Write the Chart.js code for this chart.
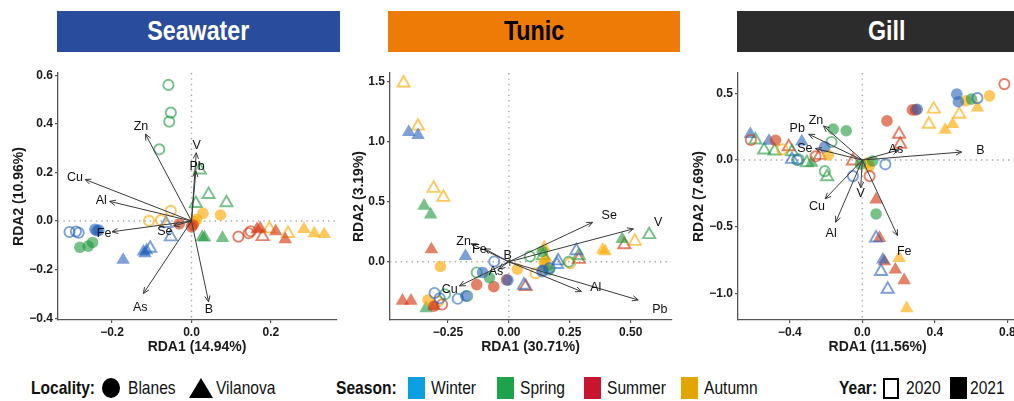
<!DOCTYPE html>
<html lang="en">
<head>
<meta charset="UTF-8" />
<title>RDA biplots</title>
<script src="https://cdn.jsdelivr.net/npm/chart.js"></script>
<style>
  html, body { margin: 0; padding: 0; background: #fff; }
  body { width: 1014px; height: 401px; overflow: hidden; position: relative; font-family: 'Liberation Sans', Arial, sans-serif; }
  canvas { position: absolute; top: 60px; }
  .title { position: absolute; top: 11px; height: 41px; line-height: 41px; text-align: center; font-weight: bold; font-size: 27px; }
  .title span { display: inline-block; transform: scaleX(0.86); }
  .leg { position: absolute; top: 378px; height: 20px; line-height: 20px; font-size: 19px; color: #111; white-space: nowrap;
         transform: scaleX(0.82); transform-origin: 0 50%; }
  .leg b { font-weight: bold; }
  .sw { position: absolute; }
</style>
</head>
<body>

<div class="title" style="left:57px;width:283px;background:#2a4c9c;color:#fff"><span>Seawater</span></div>
<div class="title" style="left:388px;width:292px;background:#ee7b06;color:#000"><span>Tunic</span></div>
<div class="title" style="left:737px;width:300px;background:#2c2c2c;color:#fff"><span>Gill</span></div>

<canvas id="seawater" width="345" height="300" style="left:0px"></canvas>
<canvas id="tunic" width="340" height="300" style="left:340px"></canvas>
<canvas id="gill" width="346" height="300" style="left:680px"></canvas>

<!-- legend -->
<div class="leg" style="left:31px"><b>Locality:</b></div>
<div class="sw" style="left:102px;top:378px;width:18px;height:20px;border-radius:50%;background:#000"></div>
<div class="leg" style="left:128px">Blanes</div>
<div class="sw" style="left:189px;top:378px;width:0;height:0;border-left:12px solid transparent;border-right:12px solid transparent;border-bottom:20px solid #000"></div>
<div class="leg" style="left:216px">Vilanova</div>

<div class="leg" style="left:336px"><b>Season:</b></div>
<div class="sw" style="left:408px;top:377px;width:17px;height:22px;background:#0ca0e2"></div>
<div class="leg" style="left:431px">Winter</div>
<div class="sw" style="left:497px;top:377px;width:17px;height:22px;background:#1fa34a"></div>
<div class="leg" style="left:520px">Spring</div>
<div class="sw" style="left:584px;top:377px;width:17px;height:22px;background:#c8152f"></div>
<div class="leg" style="left:607px">Summer</div>
<div class="sw" style="left:681px;top:377px;width:17px;height:22px;background:#e3a600"></div>
<div class="leg" style="left:704px">Autumn</div>

<div class="leg" style="left:839px"><b>Year:</b></div>
<div class="sw" style="left:883px;top:378px;width:12px;height:17px;border:2.5px solid #000"></div>
<div class="leg" style="left:906px">2020</div>
<div class="sw" style="left:950px;top:377px;width:17px;height:22px;background:#000"></div>
<div class="leg" style="left:970px">2021</div>

<script>
// ---- data ----
const localities = ['Blanes', 'Vilanova'];
const seasons = ['Winter', 'Spring', 'Summer', 'Autumn'];
const years = [2020, 2021];

// [RDA1, RDA2, locality, season, year]
const seawaterPoints = [
  [-0.058, 0.56, 'Blanes', 'Spring', 2020], [-0.052, 0.446, 'Blanes', 'Spring', 2020],
  [-0.056, 0.409, 'Blanes', 'Spring', 2020], [-0.081, 0.295, 'Blanes', 'Spring', 2020],
  [-0.281, -0.108, 'Blanes', 'Spring', 2021], [-0.26, -0.103, 'Blanes', 'Spring', 2021],
  [-0.249, -0.088, 'Blanes', 'Spring', 2021],
  [-0.307, -0.045, 'Blanes', 'Winter', 2020], [-0.291, -0.043, 'Blanes', 'Winter', 2020],
  [-0.284, -0.048, 'Blanes', 'Winter', 2020],
  [-0.243, -0.034, 'Blanes', 'Winter', 2021], [-0.233, -0.037, 'Blanes', 'Winter', 2021],
  [-0.238, -0.04, 'Blanes', 'Winter', 2021],
  [-0.107, 0.001, 'Blanes', 'Autumn', 2020], [-0.077, 0.004, 'Blanes', 'Autumn', 2020],
  [-0.052, 0.042, 'Blanes', 'Autumn', 2020],
  [0.013, 0.007, 'Blanes', 'Autumn', 2021], [0.029, 0.032, 'Blanes', 'Autumn', 2021],
  [0.073, 0.025, 'Blanes', 'Autumn', 2021], [0.008, -0.002, 'Blanes', 'Autumn', 2021],
  [-0.031, -0.012, 'Blanes', 'Summer', 2021], [0.004, -0.016, 'Blanes', 'Summer', 2021],
  [0.0, -0.024, 'Blanes', 'Summer', 2021],
  [0.118, -0.064, 'Blanes', 'Summer', 2020], [0.144, -0.05, 'Blanes', 'Summer', 2020],
  [0.149, -0.042, 'Blanes', 'Summer', 2020],
  [0.021, 0.21, 'Vilanova', 'Spring', 2020], [0.043, 0.109, 'Vilanova', 'Spring', 2020],
  [0.011, 0.072, 'Vilanova', 'Spring', 2020], [0.088, 0.075, 'Vilanova', 'Spring', 2020],
  [0.027, -0.066, 'Vilanova', 'Spring', 2021], [0.033, -0.068, 'Vilanova', 'Spring', 2021],
  [0.078, -0.07, 'Vilanova', 'Spring', 2021],
  [-0.172, -0.16, 'Vilanova', 'Winter', 2021], [-0.121, -0.126, 'Vilanova', 'Winter', 2021],
  [-0.117, -0.133, 'Vilanova', 'Winter', 2021], [-0.113, -0.12, 'Vilanova', 'Winter', 2021],
  [-0.104, -0.112, 'Vilanova', 'Winter', 2020], [-0.052, -0.065, 'Vilanova', 'Winter', 2020],
  [-0.064, -0.01, 'Vilanova', 'Winter', 2020],
  [0.165, -0.034, 'Vilanova', 'Summer', 2021], [0.173, -0.03, 'Vilanova', 'Summer', 2021],
  [0.212, -0.042, 'Vilanova', 'Summer', 2021], [0.236, -0.075, 'Vilanova', 'Summer', 2021],
  [0.179, -0.064, 'Vilanova', 'Summer', 2020],
  [0.196, -0.032, 'Vilanova', 'Autumn', 2020], [0.243, -0.051, 'Vilanova', 'Autumn', 2020],
  [0.283, -0.033, 'Vilanova', 'Autumn', 2021], [0.309, -0.051, 'Vilanova', 'Autumn', 2021],
  [0.334, -0.054, 'Vilanova', 'Autumn', 2021]
];

const tunicPoints = [
  [-0.432, 1.49, 'Vilanova', 'Autumn', 2020], [-0.373, 1.13, 'Vilanova', 'Autumn', 2020],
  [-0.309, 0.612, 'Vilanova', 'Autumn', 2020], [-0.269, 0.537, 'Vilanova', 'Autumn', 2020],
  [0.517, 0.17, 'Vilanova', 'Autumn', 2020],
  [-0.411, 1.08, 'Vilanova', 'Winter', 2021], [-0.373, 1.055, 'Vilanova', 'Winter', 2021],
  [-0.178, 0.047, 'Vilanova', 'Winter', 2021],
  [-0.348, 0.466, 'Vilanova', 'Spring', 2021], [-0.321, 0.393, 'Vilanova', 'Spring', 2021],
  [-0.34, -0.388, 'Vilanova', 'Spring', 2021], [0.465, 0.19, 'Vilanova', 'Spring', 2021],
  [0.15, -0.04, 'Vilanova', 'Spring', 2021],
  [-0.318, 0.103, 'Vilanova', 'Summer', 2021], [-0.437, -0.325, 'Vilanova', 'Summer', 2021],
  [-0.402, -0.325, 'Vilanova', 'Summer', 2021], [-0.308, -0.37, 'Vilanova', 'Summer', 2021],
  [0.385, 0.1, 'Vilanova', 'Autumn', 2021], [0.395, 0.088, 'Vilanova', 'Autumn', 2021],
  [0.145, 0.12, 'Vilanova', 'Autumn', 2021], [0.152, 0.03, 'Vilanova', 'Autumn', 2021],
  [0.069, -0.206, 'Vilanova', 'Summer', 2020], [0.287, 0.02, 'Vilanova', 'Summer', 2020],
  [0.474, 0.142, 'Vilanova', 'Summer', 2020],
  [0.062, -0.195, 'Vilanova', 'Winter', 2020], [0.202, 0.008, 'Vilanova', 'Winter', 2020],
  [0.277, 0.092, 'Vilanova', 'Winter', 2020], [0.198, -0.022, 'Vilanova', 'Winter', 2020],
  [0.287, 0.05, 'Vilanova', 'Spring', 2020], [0.576, 0.226, 'Vilanova', 'Spring', 2020],
  [0.14, 0.05, 'Vilanova', 'Spring', 2020],
  [-0.281, -0.039, 'Blanes', 'Autumn', 2021], [0.035, -0.061, 'Blanes', 'Autumn', 2021],
  [0.145, 0.0, 'Blanes', 'Autumn', 2021], [-0.332, -0.318, 'Blanes', 'Autumn', 2021],
  [0.15, -0.03, 'Blanes', 'Autumn', 2021],
  [0.11, -0.095, 'Blanes', 'Autumn', 2020], [0.252, -0.011, 'Blanes', 'Autumn', 2020],
  [-0.29, -0.33, 'Blanes', 'Autumn', 2020],
  [-0.06, 0.003, 'Blanes', 'Winter', 2020], [-0.305, -0.26, 'Blanes', 'Winter', 2020],
  [-0.284, -0.304, 'Blanes', 'Winter', 2020], [-0.21, -0.308, 'Blanes', 'Winter', 2020],
  [0.167, -0.053, 'Blanes', 'Winter', 2020], [0.137, -0.08, 'Blanes', 'Winter', 2020],
  [-0.108, -0.089, 'Blanes', 'Winter', 2021], [-0.177, -0.285, 'Blanes', 'Winter', 2021],
  [-0.004, -0.153, 'Blanes', 'Winter', 2021], [0.14, -0.07, 'Blanes', 'Winter', 2021],
  [-0.132, -0.089, 'Blanes', 'Spring', 2020], [0.086, 0.045, 'Blanes', 'Spring', 2020],
  [-0.171, -0.285, 'Blanes', 'Spring', 2020], [0.246, 0.0, 'Blanes', 'Spring', 2020],
  [-0.262, -0.27, 'Blanes', 'Spring', 2020],
  [-0.08, -0.132, 'Blanes', 'Spring', 2021], [0.137, 0.086, 'Blanes', 'Spring', 2021],
  [0.164, -0.067, 'Blanes', 'Spring', 2021],
  [-0.132, -0.19, 'Blanes', 'Summer', 2021], [-0.062, -0.207, 'Blanes', 'Summer', 2021],
  [-0.01, -0.15, 'Blanes', 'Summer', 2021], [-0.308, -0.37, 'Blanes', 'Summer', 2021],
  [-0.274, -0.356, 'Blanes', 'Summer', 2020]
];

const gillPoints = [
  [0.784, 0.568, 'Blanes', 'Summer', 2020], [-0.615, 0.15, 'Blanes', 'Summer', 2020],
  [-0.258, 0.028, 'Blanes', 'Summer', 2020], [0.04, -0.12, 'Blanes', 'Summer', 2020],
  [0.521, 0.493, 'Blanes', 'Winter', 2021], [0.53, 0.436, 'Blanes', 'Winter', 2021],
  [0.303, 0.38, 'Blanes', 'Winter', 2021], [-0.207, 0.1, 'Blanes', 'Winter', 2021],
  [0.571, 0.443, 'Blanes', 'Autumn', 2021], [0.702, 0.48, 'Blanes', 'Autumn', 2021],
  [-0.188, 0.038, 'Blanes', 'Autumn', 2021], [0.038, -0.045, 'Blanes', 'Autumn', 2021],
  [0.03, -0.02, 'Blanes', 'Autumn', 2021],
  [0.602, 0.456, 'Blanes', 'Spring', 2021], [-0.161, 0.232, 'Blanes', 'Spring', 2021],
  [-0.089, 0.219, 'Blanes', 'Spring', 2021], [0.057, -0.007, 'Blanes', 'Spring', 2021],
  [0.076, -0.403, 'Blanes', 'Spring', 2021], [-0.01, -0.03, 'Blanes', 'Spring', 2021],
  [0.635, 0.463, 'Blanes', 'Winter', 2020], [0.127, -0.032, 'Blanes', 'Winter', 2020],
  [-0.052, -0.12, 'Blanes', 'Winter', 2020], [-0.36, 0.0, 'Blanes', 'Winter', 2020],
  [0.276, 0.375, 'Blanes', 'Summer', 2021], [0.294, 0.375, 'Blanes', 'Summer', 2021],
  [0.136, 0.293, 'Blanes', 'Summer', 2021], [-0.479, 0.148, 'Blanes', 'Summer', 2021],
  [-0.352, 0.005, 'Blanes', 'Spring', 2020], [-0.17, 0.135, 'Blanes', 'Spring', 2020],
  [-0.207, -0.083, 'Blanes', 'Spring', 2020],
  [-0.442, 0.08, 'Blanes', 'Autumn', 2020],
  [0.394, 0.381, 'Vilanova', 'Autumn', 2020], [0.535, 0.343, 'Vilanova', 'Autumn', 2020],
  [0.367, 0.268, 'Vilanova', 'Autumn', 2020],
  [0.635, 0.393, 'Vilanova', 'Autumn', 2021], [0.457, 0.225, 'Vilanova', 'Autumn', 2021],
  [0.499, 0.268, 'Vilanova', 'Autumn', 2021], [0.203, -0.733, 'Vilanova', 'Autumn', 2021],
  [0.245, -1.108, 'Vilanova', 'Autumn', 2021],
  [0.203, 0.193, 'Vilanova', 'Summer', 2020], [0.209, 0.118, 'Vilanova', 'Summer', 2020],
  [-0.406, 0.1, 'Vilanova', 'Summer', 2020], [-0.234, 0.035, 'Vilanova', 'Summer', 2020],
  [-0.052, -0.007, 'Vilanova', 'Summer', 2020],
  [0.076, -0.295, 'Vilanova', 'Summer', 2021], [0.095, -0.583, 'Vilanova', 'Summer', 2021],
  [0.122, -0.758, 'Vilanova', 'Summer', 2021], [0.182, -0.82, 'Vilanova', 'Summer', 2021],
  [0.231, -0.9, 'Vilanova', 'Summer', 2021],
  [-0.618, 0.195, 'Vilanova', 'Winter', 2021], [-0.515, 0.143, 'Vilanova', 'Winter', 2021],
  [-0.334, 0.138, 'Vilanova', 'Winter', 2021], [0.113, -0.745, 'Vilanova', 'Winter', 2021],
  [-0.388, 0.005, 'Vilanova', 'Winter', 2020], [0.076, -0.583, 'Vilanova', 'Winter', 2020],
  [0.103, -0.833, 'Vilanova', 'Winter', 2020], [0.14, -0.966, 'Vilanova', 'Winter', 2020],
  [-0.59, 0.15, 'Vilanova', 'Spring', 2020], [-0.542, 0.075, 'Vilanova', 'Spring', 2020],
  [-0.484, 0.068, 'Vilanova', 'Spring', 2020], [-0.388, 0.062, 'Vilanova', 'Spring', 2020],
  [-0.306, -0.02, 'Vilanova', 'Spring', 2020], [-0.194, -0.125, 'Vilanova', 'Spring', 2020],
  [-0.279, -0.02, 'Vilanova', 'Spring', 2021]
];

// [element, arrow RDA1, arrow RDA2, label RDA1, label RDA2]
const seawaterArrows = [
  ['Zn', -0.116, 0.358, -0.127, 0.388], ['V', 0.012, 0.281, 0.013, 0.309],
  ['Pb', 0.011, 0.206, 0.014, 0.224], ['Cu', -0.268, 0.171, -0.293, 0.18],
  ['Al', -0.206, 0.081, -0.227, 0.086], ['Fe', -0.2, -0.044, -0.22, -0.051],
  ['Se', -0.045, -0.02, -0.067, -0.044], ['As', -0.121, -0.298, -0.129, -0.355],
  ['B', 0.043, -0.332, 0.044, -0.363]
];
const tunicArrows = [
  ['Se', 0.344, 0.329, 0.412, 0.385], ['V', 0.511, 0.274, 0.613, 0.324],
  ['Pb', 0.531, -0.318, 0.62, -0.396], ['Al', 0.298, -0.248, 0.357, -0.212],
  ['Zn', -0.155, 0.151, -0.186, 0.17], ['Fe', -0.1, 0.109, -0.121, 0.106],
  ['B', 0.005, 0.02, -0.005, 0.05], ['As', -0.04, -0.06, -0.053, -0.081],
  ['Cu', -0.203, -0.201, -0.243, -0.234]
];
const gillArrows = [
  ['B', 0.548, 0.06, 0.651, 0.068], ['As', 0.2, 0.075, 0.185, 0.08],
  ['Zn', -0.214, 0.255, -0.256, 0.298], ['Pb', -0.296, 0.193, -0.359, 0.236],
  ['Se', -0.259, 0.086, -0.317, 0.086], ['Cu', -0.205, -0.29, -0.25, -0.35],
  ['Al', -0.147, -0.465, -0.172, -0.55], ['V', -0.009, -0.207, -0.009, -0.25],
  ['Fe', 0.194, -0.565, 0.231, -0.683]
];

const seawaterXTicks = [-0.2, 0.0, 0.2];
const seawaterYTicks = [-0.4, -0.2, 0.0, 0.2, 0.4, 0.6];
const tunicXTicks = [-0.25, 0.0, 0.25, 0.5];
const tunicYTicks = [0.0, 0.5, 1.0, 1.5];
const gillXTicks = [-0.4, 0.0, 0.4, 0.8];
const gillYTicks = [-1.0, -0.5, 0.0, 0.5];

// ---- styling ----
const seasonColors = {
  Winter: 'rgba(38, 98, 188, 0.6)',
  Spring: 'rgba(30, 152, 62, 0.6)',
  Summer: 'rgba(212, 62, 24, 0.65)',
  Autumn: 'rgba(252, 176, 18, 0.68)'
};
const textFont = "'Liberation Sans', Arial, sans-serif";

function buildDatasets(points) {
  const sets = [];
  localities.forEach(loc => {
    seasons.forEach(sea => {
      years.forEach(yr => {
        const data = points
          .filter(p => p[2] === loc && p[3] === sea && p[4] === yr)
          .map(p => ({ x: p[0], y: p[1] }));
        if (!data.length) return;
        const filled = yr === 2021;
        const circle = loc === 'Blanes';
        sets.push({
          data: data,
          pointStyle: circle ? 'circle' : 'triangle',
          pointRadius: circle ? (filled ? 5.8 : 5.1) : (filled ? 7.8 : 7.0),
          backgroundColor: filled ? seasonColors[sea] : 'rgba(0,0,0,0)',
          borderColor: seasonColors[sea],
          borderWidth: filled ? 0 : 1.9
        });
      });
    });
  });
  return sets;
}

// dotted zero lines under the points, loading arrows + labels on top
const biplot = {
  id: 'biplot',
  beforeDatasetsDraw(chart) {
    const { ctx, chartArea: a, scales: { x, y } } = chart;
    ctx.save();
    ctx.strokeStyle = '#a8a8a8';
    ctx.lineWidth = 1.4;
    ctx.setLineDash([1.4, 4]);
    ctx.beginPath();
    const x0 = x.getPixelForValue(0), y0 = y.getPixelForValue(0);
    ctx.moveTo(x0, a.top); ctx.lineTo(x0, a.bottom);
    ctx.moveTo(a.left, y0); ctx.lineTo(a.right, y0);
    ctx.stroke();
    ctx.restore();
  },
  afterDatasetsDraw(chart, args, opts) {
    const { ctx, scales: { x, y } } = chart;
    const ox = x.getPixelForValue(0), oy = y.getPixelForValue(0);
    ctx.save();
    ctx.strokeStyle = '#3a3a3a';
    ctx.lineWidth = 1;
    opts.arrows.forEach(r => {
      const tx = x.getPixelForValue(r[1]), ty = y.getPixelForValue(r[2]);
      const ang = Math.atan2(ty - oy, tx - ox), h = 6.5, w = 0.42;
      ctx.beginPath();
      ctx.moveTo(ox, oy); ctx.lineTo(tx, ty);
      ctx.moveTo(tx - h * Math.cos(ang - w), ty - h * Math.sin(ang - w));
      ctx.lineTo(tx, ty);
      ctx.lineTo(tx - h * Math.cos(ang + w), ty - h * Math.sin(ang + w));
      ctx.stroke();
    });
    ctx.fillStyle = '#111';
    ctx.font = "12.5px 'Liberation Sans', Arial, sans-serif";
    ctx.textAlign = 'center';
    ctx.textBaseline = 'middle';
    opts.arrows.forEach(r => {
      ctx.fillText(r[0], x.getPixelForValue(r[3]), y.getPixelForValue(r[4]));
    });
    ctx.restore();
  }
};

function fmt(v, d) {
  return v.toFixed(d).replace('-', '\u2212');
}

function makeChart(id, points, arrows, c) {
  const axisCommon = {
    type: 'linear',
    grid: { drawOnChartArea: false, drawTicks: true, tickLength: 3, color: '#555', lineWidth: 1.2 },
    border: { display: true, color: '#555', width: 1.3 },
    ticks: { color: '#1a1a1a', padding: 2, font: { family: textFont, size: 12, weight: 'bold' } }
  };
  new Chart(document.getElementById(id), {
    type: 'scatter',
    data: { datasets: buildDatasets(points) },
    options: {
      responsive: false,
      animation: false,
      events: [],
      layout: { padding: { top: 13, right: c.padRight, left: 0, bottom: 0 } },
      plugins: {
        legend: { display: false },
        tooltip: { enabled: false },
        biplot: { arrows: arrows }
      },
      scales: {
        x: Object.assign({}, axisCommon, {
          min: c.xMin, max: c.xMax,
          afterBuildTicks: s => { s.ticks = c.xTicks.map(v => ({ value: v })); },
          afterFit: s => { s.height = 40; },
          ticks: Object.assign({}, axisCommon.ticks, { callback: v => fmt(v, c.xDigits) }),
          title: { display: true, text: c.xTitle, color: '#1a1a1a', padding: { top: 0, bottom: 4 },
                   font: { family: textFont, size: 14, weight: 'bold' } }
        }),
        y: Object.assign({}, axisCommon, {
          min: c.yMin, max: c.yMax,
          afterBuildTicks: s => { s.ticks = c.yTicks.map(v => ({ value: v })); },
          afterFit: s => { s.width = c.yWidth; },
          ticks: Object.assign({}, axisCommon.ticks, { callback: v => fmt(v, c.yDigits) }),
          title: { display: true, text: c.yTitle, color: '#1a1a1a', padding: { top: 11, bottom: 0 },
                   font: { family: textFont, size: 14, weight: 'bold' } }
        })
      }
    },
    plugins: [biplot]
  });
}

makeChart('seawater', seawaterPoints, seawaterArrows, {
  xMin: -0.336, xMax: 0.364, yMin: -0.407, yMax: 0.609,
  xTicks: seawaterXTicks, yTicks: seawaterYTicks, xDigits: 1, yDigits: 1,
  xTitle: 'RDA1 (14.94%)', yTitle: 'RDA2 (10.96%)', yWidth: 58, padRight: 7
});
makeChart('tunic', tunicPoints, tunicArrows, {
  xMin: -0.488, xMax: 0.666, yMin: -0.485, yMax: 1.573,
  xTicks: tunicXTicks, yTicks: tunicYTicks, xDigits: 2, yDigits: 1,
  xTitle: 'RDA1 (30.71%)', yTitle: 'RDA2 (3.19%)', yWidth: 50, padRight: 7
});
makeChart('gill', gillPoints, gillArrows, {
  xMin: -0.686, xMax: 0.854, yMin: -1.196, yMax: 0.651,
  xTicks: gillXTicks, yTicks: gillYTicks, xDigits: 1, yDigits: 1,
  xTitle: 'RDA1 (11.56%)', yTitle: 'RDA2 (7.69%)', yWidth: 58, padRight: 5
});
</script>
</body>
</html>
